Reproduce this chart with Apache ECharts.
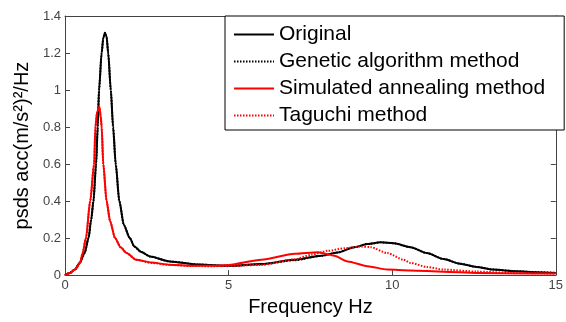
<!DOCTYPE html>
<html>
<head>
<meta charset="utf-8">
<script src="https://cdn.jsdelivr.net/npm/echarts@6/dist/echarts.min.js"></script>
<style>html,body{margin:0;padding:0;background:#fff;}#c{width:566px;height:322px;}</style>
</head>
<body>
<div id="c"></div>
<script>
const seriesNames = ['Original', 'Genetic algorithm method', 'Simulated annealing method', 'Taguchi method'];
const xTicks = [0, 5, 10, 15];
const yTicks = [0, 0.2, 0.4, 0.6, 0.8, 1, 1.2, 1.4];

const origFreq = [0, 0.15, 0.3, 0.45, 0.6, 0.72, 0.8, 0.87, 0.95, 1.0, 1.04, 1.12, 1.17, 1.22, 1.27, 1.32, 1.40, 1.47, 1.55, 1.66, 1.8, 1.98, 2.12, 2.33, 2.6, 3.2, 4.1, 5, 6, 7, 7.83, 8.33, 8.84, 9.24, 9.65, 10.05, 10.56, 11.06, 11.57, 12.07, 12.58, 13.08, 13.79, 14.4, 15];
const origVal  = [0, 0.012, 0.03, 0.065, 0.12, 0.2, 0.3, 0.4, 0.6, 0.8, 1.0, 1.2, 1.28, 1.31, 1.29, 1.2, 1.0, 0.8, 0.6, 0.4, 0.27, 0.2, 0.154, 0.125, 0.1, 0.074, 0.057, 0.05, 0.06, 0.083, 0.105, 0.122, 0.151, 0.168, 0.177, 0.172, 0.151, 0.119, 0.087, 0.062, 0.044, 0.03, 0.021, 0.016, 0.012];

const gaFreq = [0, 0.15, 0.3, 0.45, 0.6, 0.72, 0.8, 0.87, 0.95, 1.0, 1.04, 1.12, 1.17, 1.22, 1.27, 1.32, 1.40, 1.47, 1.55, 1.66, 1.8, 1.98, 2.12, 2.33, 2.6, 3.2, 4.1, 5, 6, 7, 7.83, 8.33, 8.84, 9.24, 9.65, 10.05, 10.56, 11.06, 11.57, 12.07, 12.58, 13.08, 13.79, 14.4, 15];
const gaVal  = [0, 0.012, 0.03, 0.065, 0.12, 0.2, 0.3, 0.4, 0.6, 0.8, 1.0, 1.2, 1.28, 1.31, 1.29, 1.2, 1.0, 0.8, 0.6, 0.4, 0.27, 0.2, 0.154, 0.125, 0.1, 0.074, 0.057, 0.05, 0.058, 0.08, 0.104, 0.122, 0.151, 0.168, 0.177, 0.172, 0.151, 0.119, 0.087, 0.062, 0.044, 0.03, 0.021, 0.016, 0.012];

const saFreq = [0, 0.15, 0.31, 0.46, 0.54, 0.64, 0.77, 0.89, 0.93, 0.98, 1.05, 1.09, 1.12, 1.17, 1.27, 1.38, 1.53, 1.7, 1.88, 2.17, 2.64, 3.2, 3.9, 4.5, 5, 6, 7.02, 7.73, 8.23, 8.64, 9.24, 9.85, 10.56, 11.57, 12.58, 14.1, 15];
const saVal  = [0, 0.012, 0.03, 0.066, 0.12, 0.2, 0.4, 0.6, 0.8, 0.88, 0.91, 0.86, 0.8, 0.6, 0.4, 0.29, 0.2, 0.15, 0.12, 0.083, 0.068, 0.056, 0.05, 0.05, 0.055, 0.083, 0.115, 0.124, 0.105, 0.074, 0.048, 0.03, 0.025, 0.018, 0.012, 0.009, 0.008];

const tgFreq = [0, 0.15, 0.31, 0.46, 0.54, 0.64, 0.77, 0.89, 0.93, 0.98, 1.05, 1.09, 1.12, 1.17, 1.27, 1.38, 1.53, 1.7, 1.88, 2.17, 2.64, 3.2, 3.9, 4.5, 5, 6, 7.02, 7.53, 8.03, 8.54, 9.04, 9.34, 9.85, 10.35, 10.56, 11.06, 11.57, 12.58, 13.6, 15];
const tgVal  = [0, 0.012, 0.03, 0.066, 0.12, 0.2, 0.4, 0.6, 0.8, 0.88, 0.91, 0.86, 0.8, 0.6, 0.4, 0.29, 0.2, 0.15, 0.12, 0.083, 0.066, 0.055, 0.049, 0.048, 0.05, 0.055, 0.085, 0.11, 0.131, 0.145, 0.154, 0.151, 0.119, 0.083, 0.066, 0.044, 0.03, 0.019, 0.012, 0.008];

function pairs(xs, ys) { return xs.map((x, i) => [x, ys[i]]); }

const chart = echarts.init(document.getElementById('c'), null, {renderer: 'canvas'});
const axisCol = '#444';
const font = 'Arial, "Liberation Sans", sans-serif';

function lineSeries(name, data, color, type, z) {
  return {
    name: name, type: 'line', data: data, symbol: 'none', showSymbol: false,
    smooth: 0.25, smoothMonotone: 'x', z: z,
    lineStyle: {color: color, width: 2, type: type},
    itemStyle: {color: color},
    emphasis: {disabled: true}, animation: false
  };
}

chart.setOption({
  animation: false,
  backgroundColor: '#fff',
  grid: {left: 65, right: 6, top: 16, bottom: 43, containLabel: false},
  legend: {
    orient: 'vertical', left: 225, top: 16,
    data: seriesNames,
    backgroundColor: '#fff', borderColor: '#000', borderWidth: 1, borderRadius: 0,
    padding: [8, 19, 4, 8], itemWidth: 40, itemHeight: 14, itemGap: 6,
    itemStyle: {color: 'rgba(0,0,0,0)', borderWidth: 0, opacity: 0},
    textStyle: {fontFamily: font, fontSize: 21, color: '#000', lineHeight: 21},
    selectedMode: false, inactiveColor: '#000'
  },
  xAxis: [{
    type: 'value', min: 0, max: 15, interval: 5,
    name: 'Frequency Hz', nameLocation: 'middle', nameGap: 19,
    nameTextStyle: {fontFamily: font, fontSize: 20, color: '#000'},
    axisLine: {show: true, onZero: false, lineStyle: {color: axisCol, width: 1}},
    axisTick: {show: true, inside: true, length: 5, lineStyle: {color: axisCol}},
    axisLabel: {fontFamily: font, fontSize: 13, color: '#444', margin: 4},
    splitLine: {show: false}
  }, {
    type: 'value', min: 0, max: 15, interval: 5, position: 'top',
    axisLine: {show: true, onZero: false, lineStyle: {color: axisCol, width: 1}},
    axisTick: {show: true, inside: true, length: 5, lineStyle: {color: axisCol}},
    axisLabel: {show: false}, splitLine: {show: false}
  }],
  yAxis: [{
    type: 'value', min: 0, max: 1.4, interval: 0.2,
    name: 'psds acc(m/s\u00B2)\u00B2/Hz', nameLocation: 'middle', nameGap: 29, nameRotate: 90,
    nameTextStyle: {fontFamily: font, fontSize: 20, color: '#000'},
    axisLine: {show: true, onZero: false, lineStyle: {color: axisCol, width: 1}},
    axisTick: {show: true, inside: true, length: 5, lineStyle: {color: axisCol}},
    axisLabel: {fontFamily: font, fontSize: 13, color: '#444', margin: 4,
      formatter: v => String(Math.round(v * 10) / 10)},
    splitLine: {show: false}
  }, {
    type: 'value', min: 0, max: 1.4, interval: 0.2, position: 'right',
    axisLine: {show: true, onZero: false, lineStyle: {color: axisCol, width: 1}},
    axisTick: {show: true, inside: true, length: 5, lineStyle: {color: axisCol}},
    axisLabel: {show: false}, splitLine: {show: false}
  }],
  series: [
    lineSeries(seriesNames[1], pairs(gaFreq, gaVal), '#000', [1.5, 1.5], 2),
    lineSeries(seriesNames[0], pairs(origFreq, origVal), '#000', 'solid', 3),
    lineSeries(seriesNames[2], pairs(saFreq, saVal), '#ff0000', 'solid', 4),
    lineSeries(seriesNames[3], pairs(tgFreq, tgVal), '#ff0000', [1.5, 1.5], 5)
  ]
});
</script>
</body>
</html>
